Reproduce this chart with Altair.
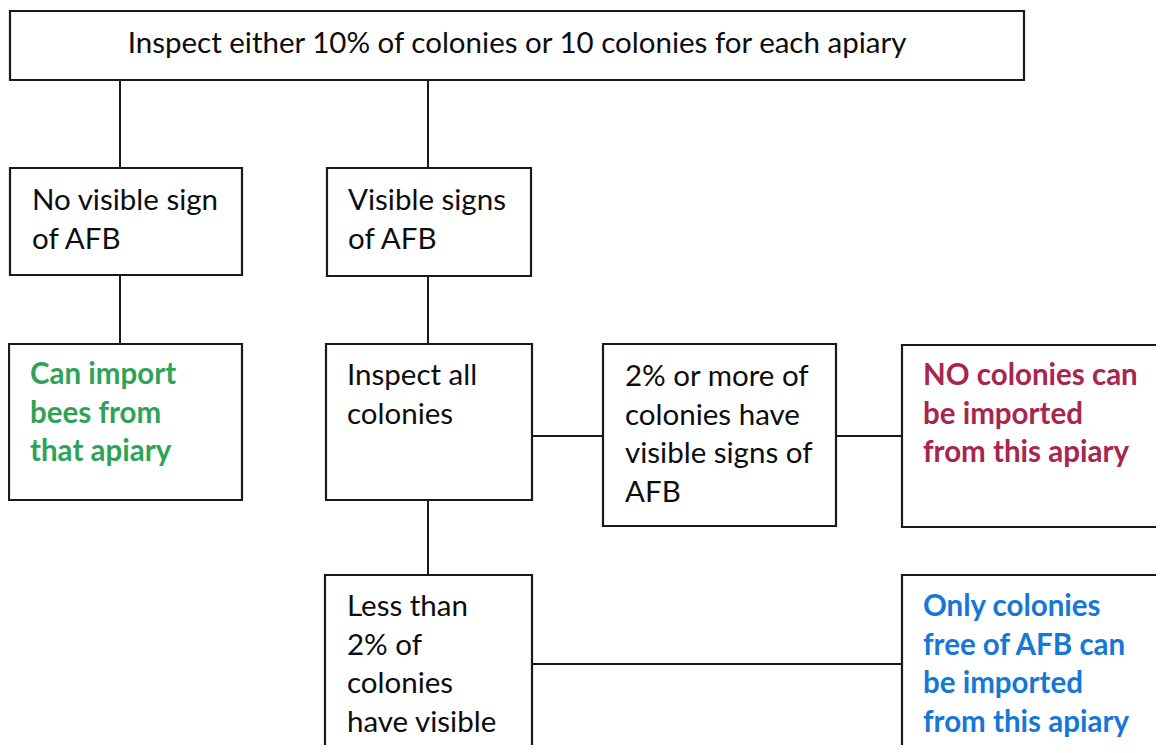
import altair as alt
import pandas as pd

# --- flowchart content ---
box_text = [
    "Inspect either 10% of colonies or 10 colonies for each apiary",
    "No visible sign\nof AFB",
    "Visible signs\nof AFB",
    "Can import\nbees from\nthat apiary",
    "Inspect all\ncolonies",
    "2% or more of\ncolonies have\nvisible signs of\nAFB",
    "NO colonies can\nbe imported\nfrom this apiary",
    "Less than\n2% of\ncolonies\nhave visible",
    "Only colonies\nfree of AFB can\nbe imported\nfrom this apiary",
]
text_color = ["#0d0d0d", "#0d0d0d", "#0d0d0d", "#2EA358", "#0d0d0d", "#0d0d0d",
              "#A8254F", "#0d0d0d", "#1677D8"]
text_weight = ["normal", "normal", "normal", "bold", "normal", "normal", "bold", "normal", "bold"]

# --- layout (pixel coordinates of the page) ---
box_x0 = [10, 10, 327, 9, 326, 603, 902, 325, 902]
box_x1 = [1024, 242, 531, 242, 532, 836, 1162, 532, 1162]
box_y0 = [11, 168, 168, 344, 344, 344, 345, 575, 575]
box_y1 = [80, 275, 276, 500, 500, 526, 527, 800, 800]
text_x = [517, 32, 348, 30, 347, 625, 923, 347, 923]
text_y = [53, 210, 210, 384, 385, 386, 385, 616, 616]
text_align = ["center", "left", "left", "left", "left", "left", "left", "left", "left"]

link_x0 = [120, 428, 120, 428, 532, 836, 428, 532]
link_x1 = [120, 428, 120, 428, 603, 902, 428, 902]
link_y0 = [80, 80, 275, 276, 436, 436, 500, 664]
link_y1 = [168, 168, 344, 344, 436, 436, 575, 664]

boxes = pd.DataFrame({"x0": box_x0, "x1": box_x1, "y0": box_y0, "y1": box_y1})
labels = pd.DataFrame({"tx": text_x, "ty": text_y, "label": box_text,
                       "tcolor": text_color, "tweight": text_weight, "talign": text_align})
links = pd.DataFrame({"x0": link_x0, "x1": link_x1, "y0": link_y0, "y1": link_y1})

xs = alt.Scale(domain=[8, 1156], nice=False, zero=False)
ys = alt.Scale(domain=[8, 745], nice=False, zero=False, reverse=True)

rects = alt.Chart(boxes).mark_rect(fill="white", stroke="#1a1a1a", strokeWidth=2.2).encode(
    x=alt.X("x0:Q", scale=xs, axis=None), x2="x1:Q",
    y=alt.Y("y0:Q", scale=ys, axis=None), y2="y1:Q",
)

rules = alt.Chart(links).mark_rule(color="#1a1a1a", strokeWidth=2).encode(
    x=alt.X("x0:Q", scale=xs, axis=None), x2="x1:Q",
    y=alt.Y("y0:Q", scale=ys, axis=None), y2="y1:Q",
)

FONT = "Lato"
SIZE = 29.5
LH = 38.7

layers = [rules, rects]
for w in ["normal", "bold"]:
    for a in ["left", "center"]:
        sub = labels[(labels.tweight == w) & (labels.talign == a)].reset_index(drop=True)
        if len(sub) == 0:
            continue
        layers.append(
            alt.Chart(sub).mark_text(
                align=a, baseline="alphabetic", font=FONT, fontSize=SIZE,
                fontWeight=w, lineHeight=LH, lineBreak="\n",
            ).encode(
                x=alt.X("tx:Q", scale=xs, axis=None),
                y=alt.Y("ty:Q", scale=ys, axis=None),
                text=alt.Text("label:N"),
                color=alt.Color("tcolor:N", scale=None),
            )
        )

chart = alt.layer(*layers).properties(
    width=1148, height=737, padding=0, autosize="none", background="white"
).configure_view(stroke=None)

chart.save("out.html", embed_options={"renderer": "svg", "actions": False})
